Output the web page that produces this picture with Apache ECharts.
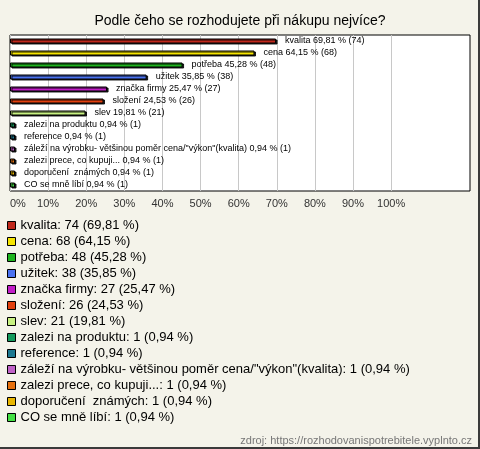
<!DOCTYPE html>
<html><head><meta charset="utf-8">
<script src="https://cdn.jsdelivr.net/npm/echarts@6/dist/echarts.min.js"></script>
<style>
html,body{margin:0;padding:0;background:#f4f3ea;}
#wrap{position:relative;width:480px;height:449px;}
#chart{width:480px;height:449px;}
#edge{position:absolute;left:0;top:0;width:478px;height:447px;border-right:2px solid #3a3a3a;border-bottom:2px solid #3a3a3a;pointer-events:none;}
</style></head>
<body><div id="wrap"><div id="chart"></div><div id="edge"></div></div>
<script>
const titleText = 'Podle čeho se rozhodujete při nákupu nejvíce?';
const sourceText = 'zdroj: https://rozhodovanispotrebitele.vyplnto.cz';
const categories = ['kvalita','cena','potřeba','užitek','značka firmy','složení','slev','zalezi na produktu','reference','záleží na výrobku- většinou poměr cena/"výkon"(kvalita)','zalezi prece, co kupuji...','doporučení  známých','CO se mně líbí'];
const counts = [74,68,48,38,27,26,21,1,1,1,1,1,1];
const percents = [69.81,64.15,45.28,35.85,25.47,24.53,19.81,0.94,0.94,0.94,0.94,0.94,0.94];
const colors = ['#c0281c','#f5e400','#1eb41e','#4a72f0','#c21ec8','#e2400e','#c8f282','#139a5c','#1c7890','#c062c8','#e6700e','#e8b600','#44e044'];
const axisTicks = [0,10,20,30,40,50,60,70,80,90,100];

function fmt(v){return v.toFixed(2).replace('.',',');}

const series = categories.map((name,i)=>({
  name: name,
  type: 'bar',
  stack: 'all',
  barWidth: 5,
  barMinHeight: 5,
  data: categories.map((c,j)=> j===i ? percents[i] : '-'),
  itemStyle: {color: colors[i], borderColor:'#000', borderWidth:1, shadowColor:'rgba(0,0,0,0.85)', shadowOffsetX:1.5, shadowOffsetY:1, shadowBlur:0},
  label: {show:true, position:'right', distance:9, color:'#000', fontSize:9, fontFamily:'Liberation Sans',
    formatter: p => name + ' ' + fmt(percents[i]) + ' % (' + counts[i] + ')'}
}));

const chart = echarts.init(document.getElementById('chart'));
chart.setOption({
  backgroundColor: '#f4f3ea',
  animation: false,
  title: [
    {text: titleText, left:'center', top:9, textStyle:{fontSize:14, fontWeight:'normal', color:'#000', fontFamily:'Liberation Sans'}},
    {text: sourceText, right:8, bottom:3, padding:0, textStyle:{fontSize:11, fontWeight:'normal', color:'#777', fontFamily:'Liberation Sans'}}
  ],
  grid: {left:10, top:35, right:10, bottom:258, show:true, backgroundColor:'#fff', borderColor:'#000', borderWidth:1, containLabel:false},
  xAxis: {type:'value', min:0, max:120.7, interval:10,
    axisLine:{show:false}, axisTick:{show:false},
    splitLine:{show:true, lineStyle:{color:['#c8c8c8','#c8c8c8','#c8c8c8','#c8c8c8','#c8c8c8','#c8c8c8','#c8c8c8','#c8c8c8','#c8c8c8','#c8c8c8','#c8c8c8','rgba(0,0,0,0)','rgba(0,0,0,0)','rgba(0,0,0,0)'], width:1}},
    axisLabel:{margin:7, color:'#333', fontSize:11, fontFamily:'Liberation Sans', alignMinLabel:'left',
      formatter: v => axisTicks.indexOf(v) >= 0 ? v + '%' : ''}
  },
  yAxis: {type:'category', data:categories, inverse:true, axisLine:{show:false}, axisTick:{show:false}, axisLabel:{show:false}, splitLine:{show:false}},
  legend: {orient:'vertical', left:2, top:214, itemWidth:8, itemHeight:8, itemGap:3, icon:'rect',
    itemStyle:{borderColor:'#000', borderWidth:1},
    textStyle:{fontSize:13, color:'#000', fontFamily:'Liberation Sans'},
    data: categories,
    formatter: name => { const i = categories.indexOf(name); return name + ': ' + counts[i] + ' (' + fmt(percents[i]) + ' %)'; }
  },
  series: series
});
</script></body></html>
